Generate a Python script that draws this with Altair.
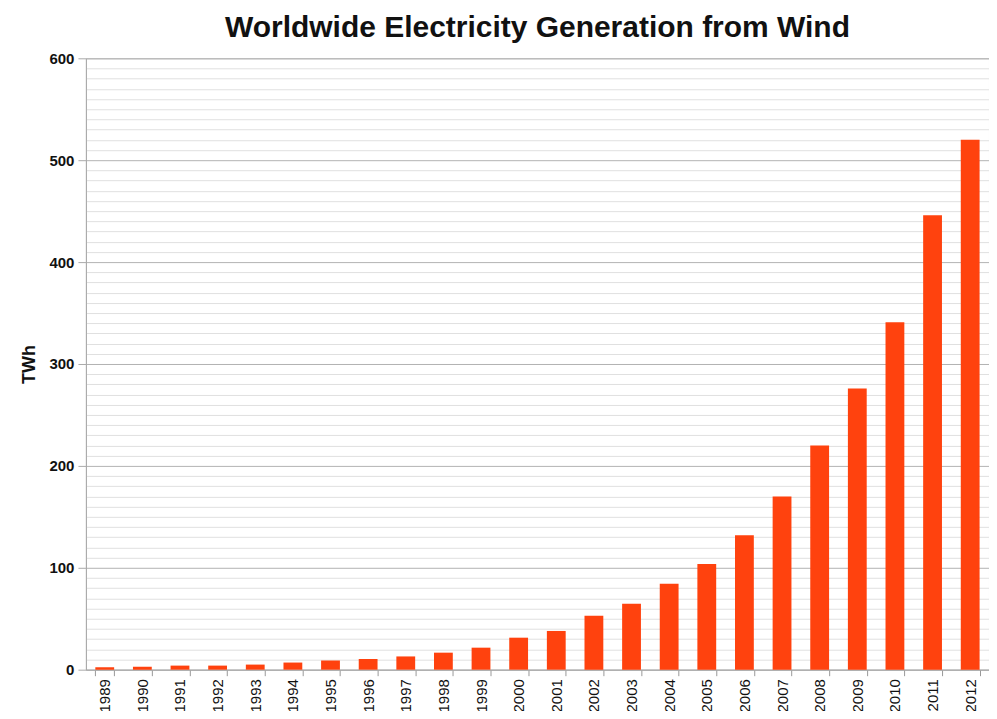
import altair as alt
import pandas as pd

years = [str(y) for y in range(1989, 2013)]
twh = [2.3, 3, 4, 4, 5, 7, 9, 10.5, 13, 16.7, 21.6, 31.4, 38, 53, 64.7,
       84.3, 103.6, 132, 170, 220, 276, 341, 446, 520]
y_grid_values = list(range(0, 601, 10))

df = pd.DataFrame({"year": years, "twh": twh})

chart = alt.Chart(df).mark_bar(color="#FF420E").encode(
    x=alt.X("year:N", sort=years, title=None,
            scale=alt.Scale(paddingInner=0.5, paddingOuter=0.25),
            axis=alt.Axis(labelAngle=-90, labelFontSize=15, labelColor="#111",
                          labelFont="Liberation Sans", tickBand="extent",
                          tickColor="#999", tickSize=6, domainColor="#aaa",
                          labelPadding=3, labelBaseline="middle", labelAlign="right")),
    y=alt.Y("twh:Q", title="TWh",
            scale=alt.Scale(domain=[0, 600], nice=False),
            axis=alt.Axis(values=y_grid_values,
                          labelExpr="datum.value % 100 === 0 ? datum.label : ''",
                          labelFontSize=15, labelFontWeight="bold", labelColor="#111",
                          labelFont="Liberation Sans", labelPadding=4,
                          titleFontSize=18, titleFontWeight="bold", titleColor="#111",
                          titleFont="Liberation Sans", titlePadding=10,
                          grid=True,
                          gridColor={"condition": {"test": "datum.value % 100 === 0", "value": "#b3b3b3"}, "value": "#e0e0e0"},
                          tickOpacity={"condition": {"test": "datum.value % 100 === 0", "value": 1}, "value": 0},
                          tickColor="#aaa", tickSize=8, domainColor="#aaa")),
).properties(
    width=904, height=612,
    title=alt.TitleParams("Worldwide Electricity Generation from Wind",
                          fontSize=30, fontWeight="bold", font="Liberation Sans",
                          color="#111", offset=8, anchor="middle"),
    autosize=alt.AutoSizeParams(type="none"),
    padding={"left": 78, "top": 50, "right": 0, "bottom": 41},
).configure_view(stroke="#bbb")

chart.save("out.html", embed_options={"renderer": "svg", "actions": False})
